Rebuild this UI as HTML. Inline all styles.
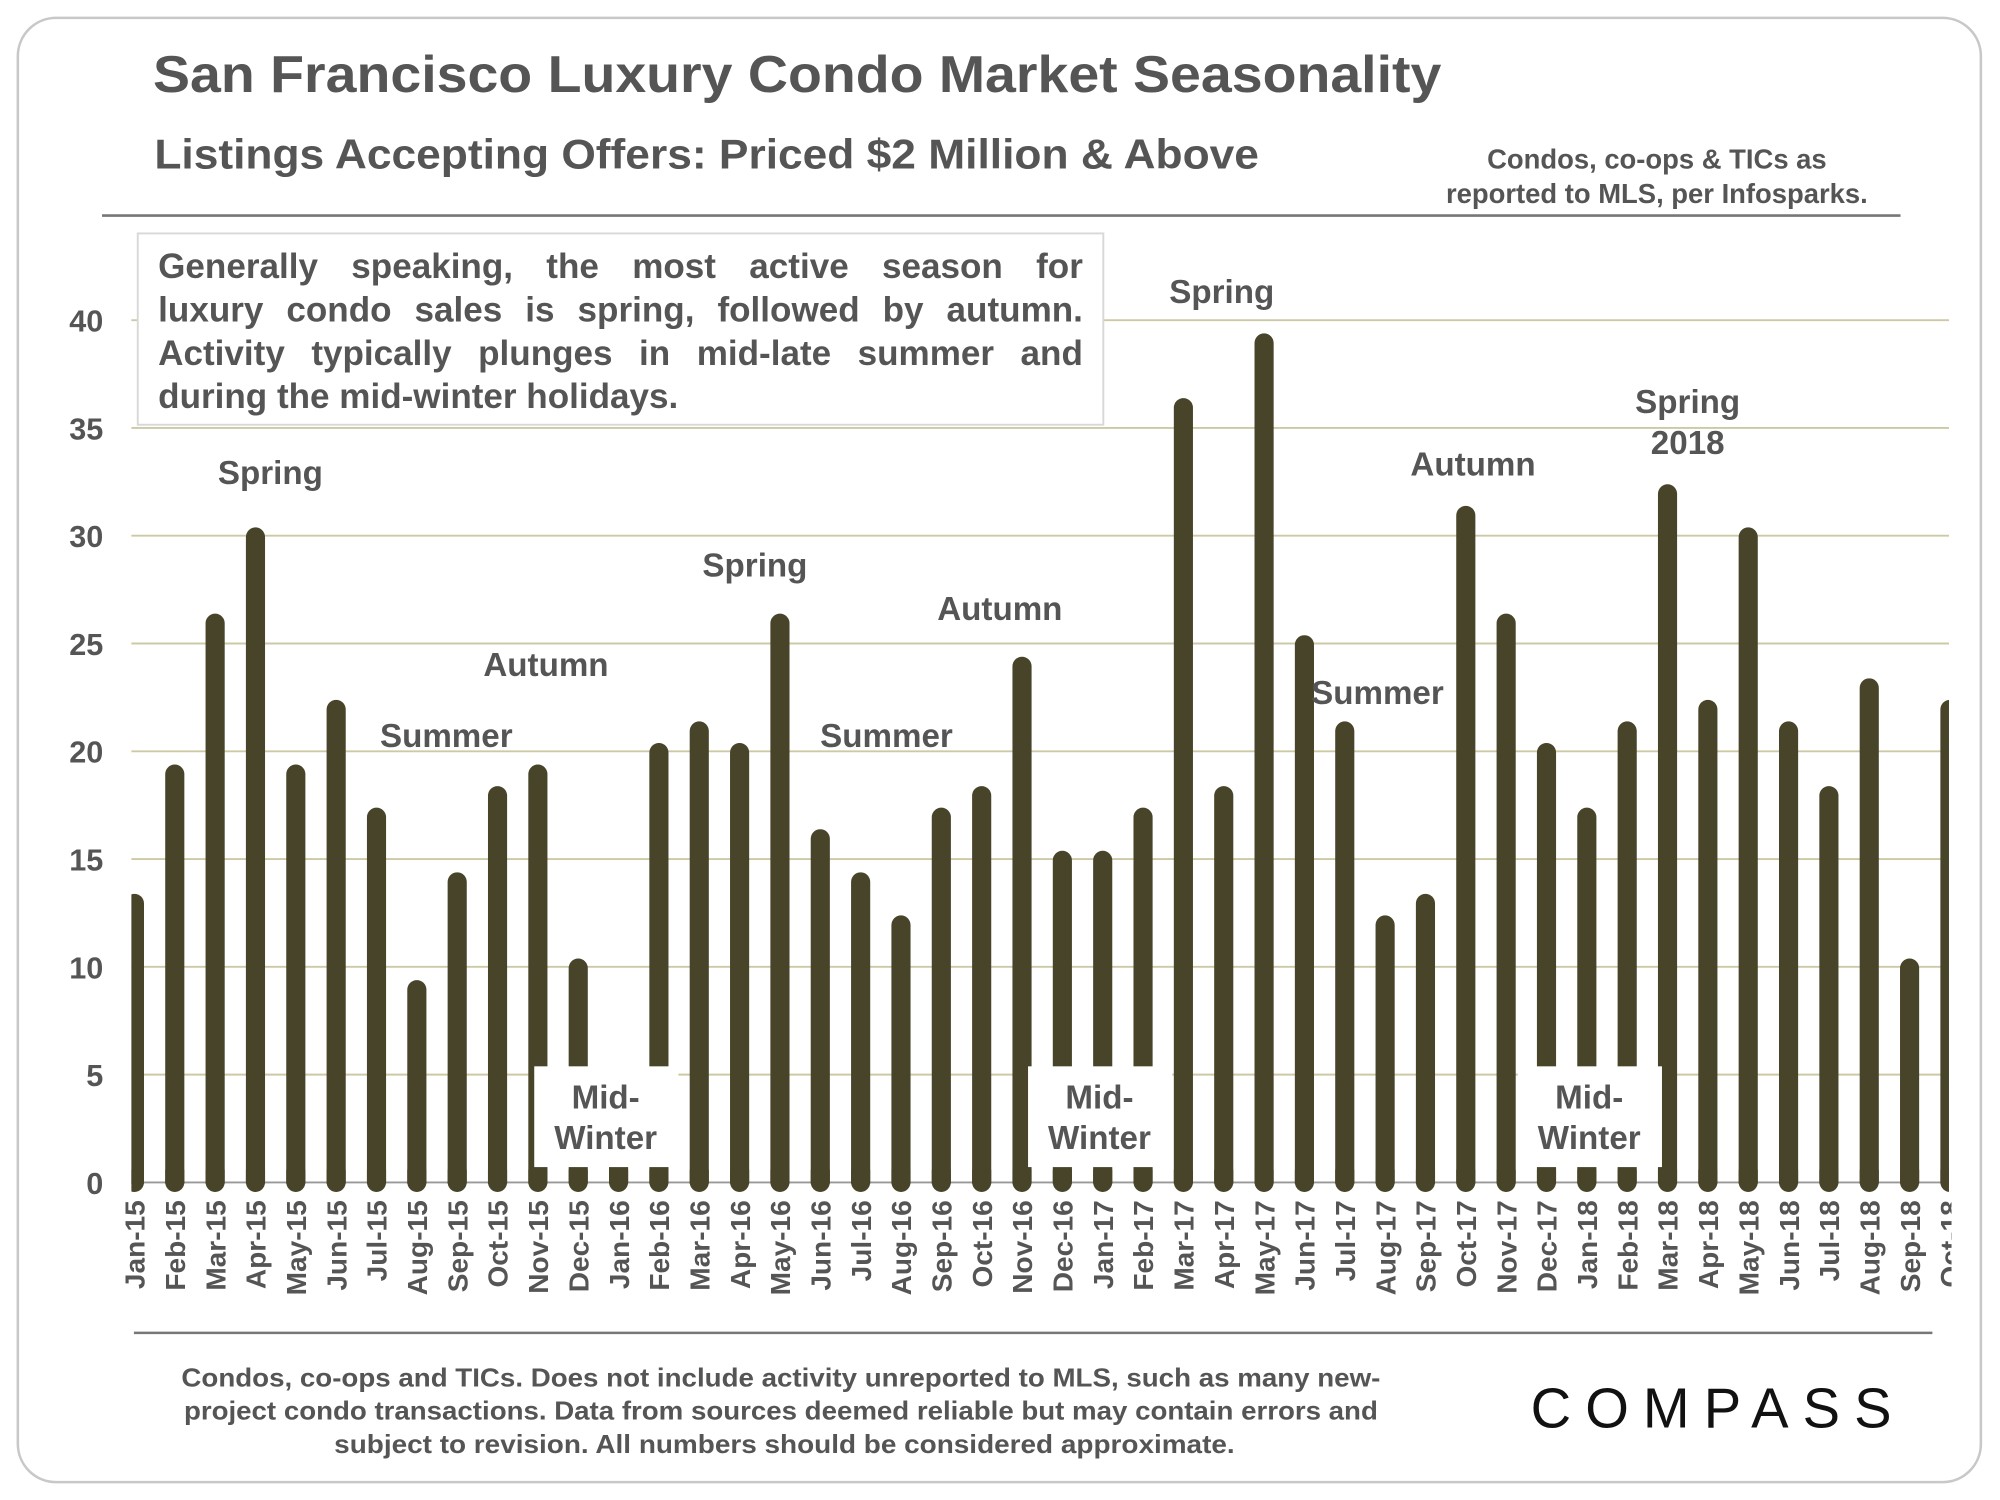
<!DOCTYPE html>
<html><head><meta charset="utf-8"><style>
html,body{margin:0;padding:0;background:#fff;}
svg{display:block;}
text{font-family:"Liberation Sans",Arial,sans-serif;}
</style></head><body>
<svg id="chart" width="2000" height="1500" viewBox="0 0 1568 1176" xmlns="http://www.w3.org/2000/svg">
<rect x="14" y="14" width="1539" height="1148" rx="30" fill="#fff" stroke="#c8c8c8" stroke-width="2"/>
<text x="120" y="72" font-size="41" font-weight="bold" fill="#555" textLength="1010" lengthAdjust="spacingAndGlyphs">San Francisco Luxury Condo Market Seasonality</text>
<text x="121" y="132" font-size="33" font-weight="bold" fill="#555" textLength="866" lengthAdjust="spacingAndGlyphs">Listings Accepting Offers: Priced $2 Million &amp; Above</text>
<text x="1299" y="132" font-size="21.5" font-weight="bold" fill="#555" text-anchor="middle">Condos, co-ops &amp; TICs as</text>
<text x="1299" y="159" font-size="21.5" font-weight="bold" fill="#555" text-anchor="middle">reported to MLS, per Infosparks.</text>
<line x1="80" y1="169" x2="1490" y2="169" stroke="#777" stroke-width="2"/>
<g id="grid"></g>
<g id="bars"></g>
<g id="ylabels"></g>
<g id="xlabels"></g>
<g id="annos"></g>
<rect x="108" y="183" width="757" height="150" fill="#fff" stroke="#d8d8d8" stroke-width="1.5"/>
<text font-size="27.5" font-weight="bold" fill="#555">
<tspan class="just" x="124" y="218">Generally speaking, the most active season for</tspan>
<tspan class="just" x="124" y="252">luxury condo sales is spring, followed by autumn.</tspan>
<tspan class="just" x="124" y="286">Activity typically plunges in mid-late summer and</tspan>
<tspan x="124" y="320">during the mid-winter holidays.</tspan>
</text>
<line x1="105" y1="1045" x2="1515" y2="1045" stroke="#777" stroke-width="2"/>
<text font-size="20" font-weight="bold" fill="#555" text-anchor="middle">
<tspan x="615" y="1087" textLength="940" lengthAdjust="spacingAndGlyphs">Condos, co-ops and TICs. Does not include activity unreported to MLS, such as many new-</tspan>
<tspan x="615" y="1113" textLength="936" lengthAdjust="spacingAndGlyphs">project condo transactions. Data from sources deemed reliable but may contain errors and</tspan>
<tspan x="615" y="1139" textLength="706" lengthAdjust="spacingAndGlyphs">subject to revision.  All numbers should be considered approximate.</tspan>
</text>
<text x="1200" y="1119" font-size="44" fill="#111" textLength="283" lengthAdjust="spacing">COMPASS</text>
<script>
var categories=["Jan-15","Feb-15","Mar-15","Apr-15","May-15","Jun-15","Jul-15","Aug-15","Sep-15","Oct-15","Nov-15","Dec-15","Jan-16","Feb-16","Mar-16","Apr-16","May-16","Jun-16","Jul-16","Aug-16","Sep-16","Oct-16","Nov-16","Dec-16","Jan-17","Feb-17","Mar-17","Apr-17","May-17","Jun-17","Jul-17","Aug-17","Sep-17","Oct-17","Nov-17","Dec-17","Jan-18","Feb-18","Mar-18","Apr-18","May-18","Jun-18","Jul-18","Aug-18","Sep-18","Oct-18"];
var values=[13,19,26,30,19,22,17,9,14,18,19,10,4,20,21,20,26,16,14,12,17,18,24,15,15,17,36,18,39,25,21,12,13,31,26,20,17,21,32,22,30,21,18,23,10,22];
var yTicks=[0,5,10,15,20,25,30,35,40];
var seasonLabels=["Spring","Summer","Autumn","Spring","Summer","Autumn","Spring","Summer","Autumn","Spring"];
var seasonIdx=[3.37,7.73,10.2,15.38,18.64,21.45,26.95,30.81,33.18,38.5];
var seasonVal=[32.4,20.2,23.5,28.1,20.2,26.1,40.8,22.2,32.8,35.7];
var winterIdx=[11.68,23.92,36.06];
var NS="http://www.w3.org/2000/svg";
var X0=103,X1=1528,Y0=927,YPER=(927-251)/40,C0=105.4,STEP=31.63,BW=15;
function x(i){return C0+STEP*i;}
function y(v){return Y0-v*YPER;}
function mk(tag,attrs,parent){var e=document.createElementNS(NS,tag);for(var k in attrs)e.setAttribute(k,attrs[k]);parent.appendChild(e);return e;}
var defs=mk("defs",{},document.getElementById("chart"));
var cp=mk("clipPath",{id:"plotclip"},defs);
mk("rect",{x:X0,y:150,width:X1-X0,height:800},cp);
var grid=document.getElementById("grid"),yl=document.getElementById("ylabels");
yTicks.forEach(function(t){
  var l=mk("line",{x1:X0,x2:X1,y1:y(t),y2:y(t),stroke:t===0?"#999":"#cdc9a5","stroke-width":1.5},grid);
  
  
  var tx=mk("text",{x:81,y:y(t)+9,"font-size":24,"font-weight":"bold",fill:"#555","text-anchor":"end"},yl);
  tx.textContent=t;
  
  
});
var bars=document.getElementById("bars");bars.setAttribute("clip-path","url(#plotclip)");
var xl=document.getElementById("xlabels");
values.forEach(function(v,i){
  var top=y(v)-6.5,h=Y0-top;
  var b=mk("rect",{x:x(i)-BW/2,y:top,width:BW,height:h+BW/2,rx:BW/2,fill:"#48442a"},bars);
  
  
  var sq=mk("rect",{x:x(i)-BW/2,y:Y0-10,width:BW,height:11,fill:"#48442a"},bars);
  
  
  var cx=x(i)+8,tx=mk("text",{x:cx,y:941,transform:"rotate(-90 "+cx+" 941)","font-size":22,"font-weight":"bold",fill:"#555","text-anchor":"end"},xl);
  tx.textContent=categories[i];
  
  
});
xl.setAttribute("clip-path","url(#xlclip)");
var cp2=mk("clipPath",{id:"xlclip"},defs);mk("rect",{x:90,y:930,width:1440,height:100},cp2);
var an=document.getElementById("annos");
seasonLabels.forEach(function(s,i){
  var t=mk("text",{x:x(seasonIdx[i]),y:y(seasonVal[i]),"font-size":26,"font-weight":"bold",fill:"#555","text-anchor":"middle"},an);
  t.textContent=s;
  
  
});
var t2=mk("text",{x:x(38.5),y:y(33.8),"font-size":26,"font-weight":"bold",fill:"#555","text-anchor":"middle"},an);
t2.textContent="2018";


winterIdx.forEach(function(w){
  var cx=x(w);
  var r=mk("rect",{x:cx-56,y:836,width:113,height:79,fill:"#fff"},an);
  
  
  var a=mk("text",{x:cx,y:869,"font-size":26,"font-weight":"bold",fill:"#555","text-anchor":"middle"},an);a.textContent="Mid-";
  
  
  var b=mk("text",{x:cx,y:901,"font-size":26,"font-weight":"bold",fill:"#555","text-anchor":"middle"},an);b.textContent="Winter";
  
  
});
Array.prototype.forEach.call(document.querySelectorAll("tspan.just"),function(ts){
  var w=ts.getComputedTextLength();var n=(ts.textContent.match(/ /g)||[]).length;
  if(n>0){ts.setAttribute("word-spacing",((725-w)/n).toFixed(2));}
});
</script>
</svg>
</body></html>
